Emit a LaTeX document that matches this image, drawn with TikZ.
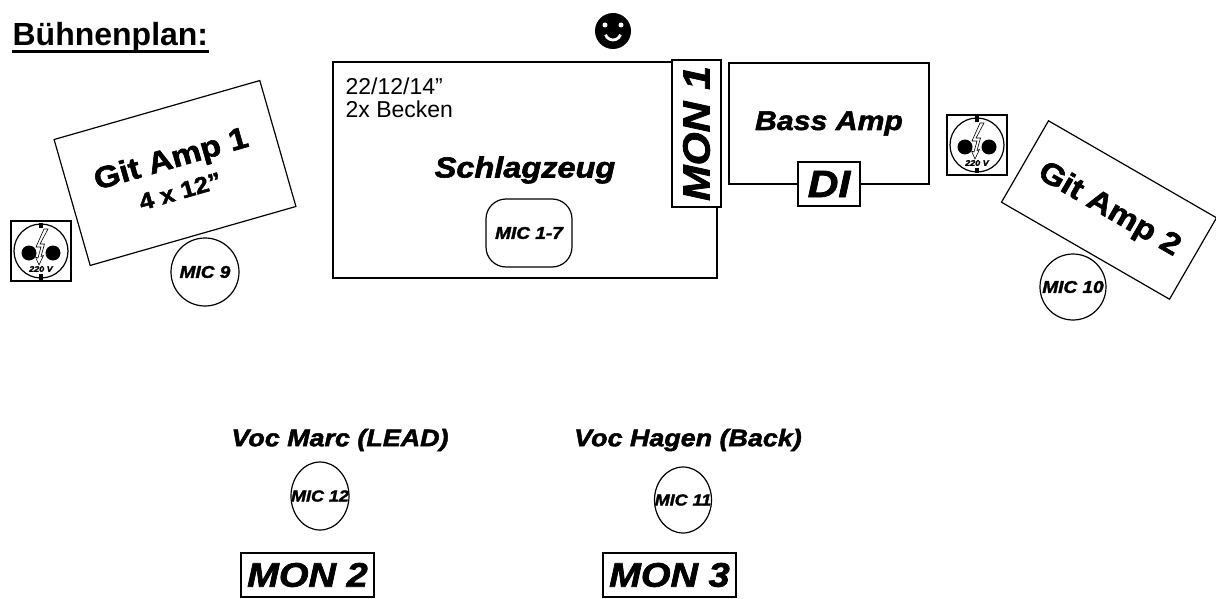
\documentclass[tikz,border=0pt]{standalone}
\usepackage{fontspec}
\setmainfont{Liberation Sans}
\newfontfamily\blackfont{Liberation Sans}[FakeStretch=1.12,FakeBold=2]
\usetikzlibrary{shapes.geometric}

\newcommand{\heavy}[1]{\blackfont\bfseries\itshape\fontsize{#1}{#1}\selectfont}
\newcommand{\heavyup}[1]{\blackfont\bfseries\fontsize{#1}{#1}\selectfont}

\tikzset{
  kiste/.style={draw, rectangle, inner sep=0pt, fill=white},
  mic/.style={draw, circle, inner sep=0pt, fill=white, font=\heavy{8.5}},
  steckdose/.pic={
    \draw[fill=white] (-30,-30) rectangle (30,30);
    \draw (0,0) circle (27);
    \fill (-2,-28.5) rectangle (2,-23);
    \fill (-2,23) rectangle (2,28.5);
    \fill (-12,2) circle (7.5);
    \fill (12,2) circle (7.5);
    \draw[fill=white, line width=0.3pt] (3,-22) -- (-5,-4) -- (0,-4) -- (-3,7)
      -- (-5.5,6) -- (-2,14) -- (2.5,4.5) -- (0,5.5) -- (3.5,-7) -- (-1,-7) -- (7,-22) -- cycle;
    \node[inner sep=0pt, font=\heavy{4}] (-volt) at (0,18) {220 V};
  }
}

\begin{document}
\begin{tikzpicture}[x=0.5pt, y=-0.5pt, line width=0.6pt]
  \useasboundingbox (0,0) rectangle (1216,599);

  % Titel
  \node[anchor=base west, inner sep=0pt, font=\bfseries\fontsize{16}{16}\selectfont] (titel) at (12,46) {Bühnenplan:};
  \draw[line width=1.5pt] ([yshift=-2.75pt]titel.base west) -- ([yshift=-2.75pt]titel.base east);

  % Publikum
  \fill (613,31) circle (18);
  \fill[white] (605,25) circle (2.5) (621,25) circle (2.5);
  \draw[white, line width=1.4pt] (613,32) ++(160:8) arc (160:20:8);

  % Schlagzeug
  \node[kiste, minimum width=192pt, minimum height=108pt, font=\heavy{14.5}] (drums) at (525,170) {Schlagzeug};
  \node[anchor=north west, align=left, inner sep=0pt, font=\fontsize{11.5}{11.5}\selectfont] (drumsinfo) at (345,77) {22/12/14”\\2x Becken};
  \node[kiste, rounded corners=10pt, minimum width=43pt, minimum height=34pt, font=\heavy{8.5}] (mic17) at (529,233) {MIC 1-7};
  \node[kiste, rotate=90, minimum width=73.5pt, minimum height=24.5pt, font=\heavy{19}] (mon1) at (696.5,133.5) {MON 1};

  % Bass
  \node[kiste, minimum width=100pt, minimum height=60.5pt, font=\heavy{13.5}] (bass) at (829,123.5) {Bass Amp};
  \node[kiste, minimum width=31pt, minimum height=22pt, font=\heavy{19}] (di) at (829,184) {DI};

  % Gitarren
  \node[kiste, rotate=16, minimum width=107pt, minimum height=65.5pt, align=center, font=\heavyup{15}] (gitamp1) at (175,173)
    {Git Amp 1\\[1pt]{\fontsize{11.5}{11.5}\selectfont 4 x 12”}};
  \node[mic, minimum size=34pt] (mic9) at (205,272) {MIC 9};
  \node[kiste, rotate=-30, minimum width=97pt, minimum height=47pt, font=\heavyup{15}] (gitamp2) at (1109,210) {Git Amp 2};
  \node[mic, minimum size=33pt] (mic10) at (1073,287) {MIC 10};

  % Strom
  \pic (sockL) at (41,251) {steckdose};
  \pic (sockR) at (977,145) {steckdose};

  % Gesang
  \node[font=\heavy{12}] (vocmarc) at (340,440) {Voc Marc (LEAD)};
  \node[mic, ellipse, minimum width=29pt, minimum height=34pt, font=\heavy{8}] (mic12) at (320,496) {\makebox[0pt]{MIC 12}};
  \node[kiste, minimum width=66.5pt, minimum height=22pt, font=\heavy{17}] (mon2) at (307.5,575) {MON 2};

  \node[font=\heavy{12}] (vochagen) at (688,440) {Voc Hagen (Back)};
  \node[mic, ellipse, minimum width=28.5pt, minimum height=33pt, font=\heavy{8}] (mic11) at (683,500) {\makebox[0pt]{MIC 11}};
  \node[kiste, minimum width=66.5pt, minimum height=22pt, font=\heavy{17}] (mon3) at (669.5,575) {MON 3};
\end{tikzpicture}
\end{document}
